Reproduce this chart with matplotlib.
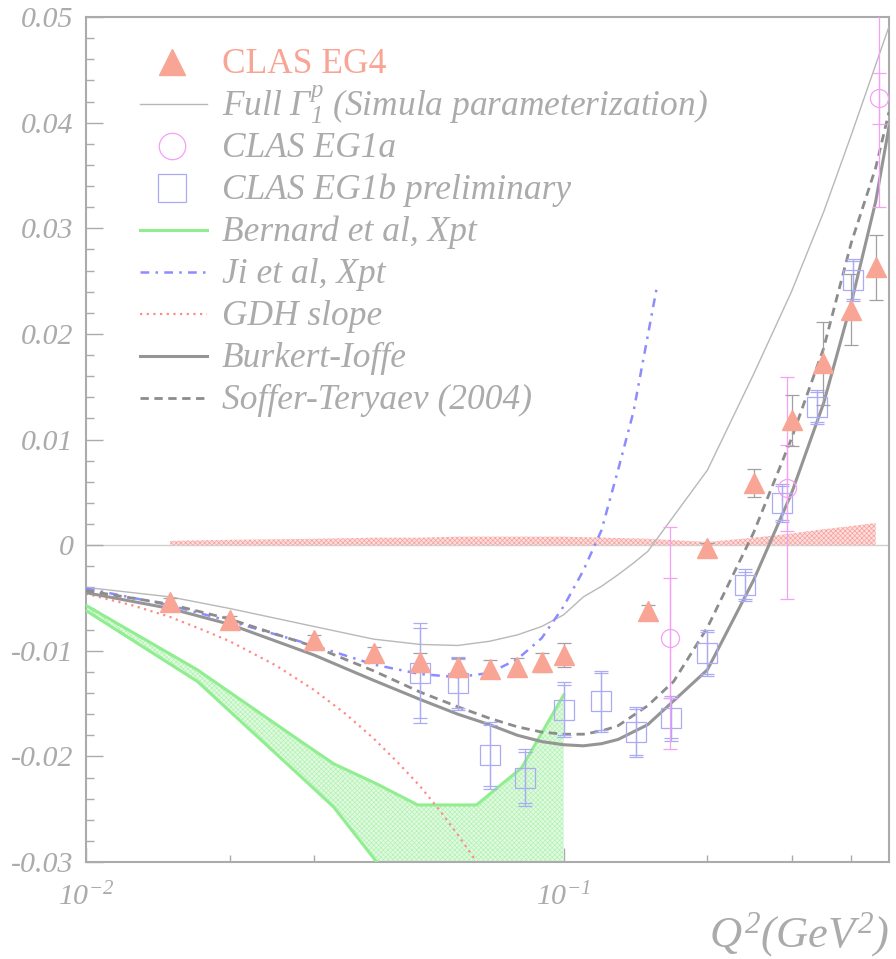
import matplotlib
matplotlib.use('Agg')
import matplotlib.pyplot as plt
from matplotlib.ticker import MultipleLocator, FuncFormatter, NullFormatter, LogLocator

plt.rcParams['font.family'] = ['Liberation Serif', 'DejaVu Serif']
plt.rcParams['font.style'] = 'italic'
plt.rcParams['mathtext.fontset'] = 'custom'
plt.rcParams['mathtext.rm'] = 'Liberation Serif:italic'
plt.rcParams['mathtext.it'] = 'Liberation Serif:italic'
plt.rcParams['mathtext.sf'] = 'Liberation Serif'
plt.rcParams['axes.unicode_minus'] = False
plt.rcParams['hatch.linewidth'] = 0.5

# CLAS EG4 points (triangles), stat errors, systematic band
eg4_q2 = [0.015, 0.02, 0.03, 0.04, 0.05, 0.06, 0.07, 0.08, 0.09, 0.1,
          0.15, 0.2, 0.25, 0.3, 0.35, 0.4, 0.45]
eg4_g1 = [-0.0054, -0.0071, -0.0090, -0.0102, -0.0111, -0.0115, -0.0117, -0.0115, -0.0111, -0.0104,
          -0.0062, -0.0003, 0.0059, 0.0118, 0.0172, 0.0223, 0.0263]
eg4_err = [0.0004, 0.0004, 0.0005, 0.0006, 0.0009, 0.0008, 0.0008, 0.0008, 0.0009, 0.0011,
           0.0005, 0.0005, 0.0013, 0.0024, 0.0039, 0.0034, 0.0031]
eg4_sys = [0.0004, 0.0005, 0.0006, 0.0007, 0.0007, 0.0008, 0.0008, 0.0008, 0.0008, 0.0008,
           0.0006, 0.0003, 0.0007, 0.0011, 0.0015, 0.0018, 0.0021]

# CLAS EG1a (circles)
eg1a_q2 = [0.167, 0.293, 0.458]
eg1a_g1 = [-0.0088, 0.0054, 0.0423]
eg1a_stat = [0.0057, 0.0041, 0.0024]
eg1a_tot = [0.0105, 0.0105, 0.0103]

# CLAS EG1b preliminary (squares)
eg1b_q2 = [0.05, 0.06, 0.07, 0.083, 0.1, 0.12, 0.142, 0.168, 0.2, 0.24, 0.287, 0.34, 0.403]
eg1b_g1 = [-0.0121, -0.0131, -0.0199, -0.0220, -0.0156, -0.0148, -0.0177, -0.0164, -0.0102,
           -0.0038, 0.0040, 0.0131, 0.0251]
eg1b_stat = [0.0043, 0.0023, 0.0029, 0.0024, 0.0024, 0.0027, 0.0022, 0.0019, 0.0020,
             0.0013, 0.0016, 0.0014, 0.0018]
eg1b_tot = [0.0047, 0.0025, 0.0032, 0.0027, 0.0026, 0.0029, 0.0024, 0.0021, 0.0022,
            0.0015, 0.0018, 0.0016, 0.0020]

# Full Gamma_1^p, Simula parameterization
sim_q2 = [0.01, 0.015, 0.02, 0.03, 0.04, 0.05, 0.06, 0.07, 0.08, 0.09, 0.1, 0.11, 0.12, 0.13,
          0.14, 0.15, 0.2, 0.25, 0.3, 0.35, 0.4, 0.48]
sim_g1 = [-0.0040, -0.0049, -0.0060, -0.0077, -0.0089, -0.0094, -0.0095, -0.0091, -0.0085,
          -0.0077, -0.0066, -0.0049, -0.0039, -0.0028, -0.0017, -0.0006, 0.0071, 0.0162,
          0.0240, 0.0315, 0.0388, 0.0491]

# Bernard et al, Xpt band
bern_q2 = [0.01, 0.0171, 0.028, 0.033, 0.0406, 0.0495, 0.0657, 0.0816, 0.1]
bern_hi = [-0.0057, -0.0118, -0.0185, -0.0207, -0.0226, -0.0246, -0.0246, -0.0211, -0.0142]
bern_lo = [-0.0062, -0.0129, -0.0218, -0.0248, -0.0300, -0.0360, -0.0450, -0.0500, -0.0550]

# Ji et al, Xpt
ji_q2 = [0.01, 0.015, 0.02, 0.03, 0.04, 0.05, 0.06, 0.07, 0.08, 0.09, 0.1, 0.11, 0.12, 0.13,
         0.14, 0.15, 0.157]
ji_g1 = [-0.0041, -0.0057, -0.0072, -0.0095, -0.0113, -0.0122, -0.0125, -0.0121, -0.0108,
         -0.0088, -0.0058, -0.0024, 0.0014, 0.0071, 0.0126, 0.0198, 0.0246]

# GDH slope
gdh_q2 = [0.01, 0.0125, 0.015, 0.0175, 0.02, 0.025, 0.03, 0.035, 0.04, 0.045, 0.05, 0.055,
          0.06, 0.066]
gdh_g1 = [-0.0046, -0.0057, -0.0068, -0.0080, -0.0091, -0.0114, -0.0137, -0.0160, -0.0183,
          -0.0206, -0.0228, -0.0251, -0.0274, -0.0301]

# Burkert-Ioffe
bi_q2 = [0.01, 0.015, 0.02, 0.03, 0.04, 0.05, 0.06, 0.07, 0.08, 0.09, 0.1, 0.11, 0.12, 0.13,
         0.15, 0.2, 0.25, 0.3, 0.35, 0.4, 0.45, 0.48]
bi_g1 = [-0.0045, -0.0060, -0.0075, -0.0104, -0.0128, -0.0146, -0.0160, -0.0170, -0.0180,
         -0.0186, -0.0189, -0.0190, -0.0188, -0.0184, -0.0170, -0.0118, -0.0033, 0.0049,
         0.0134, 0.0229, 0.0325, 0.0396]

# Soffer-Teryaev (2004)
st_q2 = [0.01, 0.015, 0.02, 0.03, 0.04, 0.05, 0.06, 0.07, 0.08, 0.09, 0.1, 0.11, 0.12, 0.13,
         0.15, 0.17, 0.2, 0.25, 0.3, 0.35, 0.4, 0.45, 0.48]
st_g1 = [-0.0043, -0.0056, -0.0070, -0.0096, -0.0119, -0.0139, -0.0153, -0.0164, -0.0172,
         -0.0177, -0.0179, -0.0179, -0.0176, -0.0171, -0.0152, -0.0129, -0.0078, 0.0012,
         0.0101, 0.0186, 0.0286, 0.0357, 0.0410]

leg_labels = ['CLAS EG4', r'Full $\mathsf{\Gamma}_{1}^{p}$ (Simula parameterization)',
              'CLAS EG1a', 'CLAS EG1b preliminary', 'Bernard et al, Xpt', 'Ji et al, Xpt',
              'GDH slope', 'Burkert-Ioffe', 'Soffer-Teryaev (2004)']

salmon = '#f9a595'
grey_txt = '#ababab'
magenta = '#f5a0f5'
blue_sq = '#aaaaf5'
green = '#90ee90'
ji_blue = '#8c8cff'
gdh_red = '#ff8a8a'

W, H = 896, 959
fig = plt.figure(figsize=(W / 100, H / 100), dpi=100)
ax = fig.add_axes([86 / W, 1 - 862 / H, 803 / W, 845 / H])
ax.set_xscale('log')
ax.set_xlim(0.01, 0.48)
ax.set_ylim(-0.03, 0.05)

ax.axhline(0, color='#d0d0d0', lw=1, zorder=1)

# Bernard band
ax.fill_between(bern_q2, bern_lo, bern_hi, facecolor='#e2fae2', edgecolor='#b2f2b2',
                hatch='xxxxxxx', lw=0, zorder=2)
ax.plot(bern_q2, bern_hi, color=green, lw=2.2, zorder=3)
ax.plot(bern_q2, bern_lo, color=green, lw=2.2, zorder=3)

# EG4 systematic band
ax.fill_between(eg4_q2, 0, eg4_sys, facecolor='#fde0dc', edgecolor='#f6a0a0',
                hatch='xxxxxxx', lw=0, zorder=2)

ax.plot(sim_q2, sim_g1, color='#b8b8b8', lw=1.0, zorder=3)
ax.plot(gdh_q2, gdh_g1, color=gdh_red, lw=1.6, ls=(0, (1, 2)), zorder=3)
ax.plot(ji_q2, ji_g1, color=ji_blue, lw=1.8, ls=(0, (3.5, 2.5, 1, 2.5)), zorder=3)
ax.plot(bi_q2, bi_g1, color='#959595', lw=2.2, zorder=3)
ax.plot(st_q2, st_g1, color='#8c8c8c', lw=2.0, ls=(0, (3, 2)), zorder=3)

# EG1b
ax.errorbar(eg1b_q2, eg1b_g1, yerr=eg1b_tot, fmt='none', ecolor=blue_sq, elinewidth=0.9,
            capsize=5, capthick=0.9, zorder=4)
ax.errorbar(eg1b_q2, eg1b_g1, yerr=eg1b_stat, fmt='none', ecolor=blue_sq, elinewidth=0.9,
            capsize=5, capthick=0.9, zorder=4)
ax.plot(eg1b_q2, eg1b_g1, 's', ms=15, mfc='none', mec=blue_sq, mew=0.9, zorder=4)

# EG1a
ax.errorbar(eg1a_q2, eg1a_g1, yerr=eg1a_tot, fmt='none', ecolor=magenta, elinewidth=0.9,
            capsize=5, capthick=0.9, zorder=4)
ax.errorbar(eg1a_q2, eg1a_g1, yerr=eg1a_stat, fmt='none', ecolor=magenta, elinewidth=0.9,
            capsize=5, capthick=0.9, zorder=4)
ax.plot(eg1a_q2, eg1a_g1, 'o', ms=13, mfc='none', mec=magenta, mew=0.9, zorder=4)

# EG4
ax.errorbar(eg4_q2, eg4_g1, yerr=eg4_err, fmt='none', ecolor='#a0a0a0', elinewidth=0.9,
            capsize=5, capthick=0.9, zorder=5)
ax.plot(eg4_q2, eg4_g1, '^', ms=14, color=salmon, mec=salmon, zorder=6)

# axes styling
for sp in ax.spines.values():
    sp.set_color('#ababab')
    sp.set_linewidth(1.5)
ax.yaxis.set_major_locator(MultipleLocator(0.01))
ax.yaxis.set_minor_locator(MultipleLocator(0.002))
ax.yaxis.set_major_formatter(FuncFormatter(lambda v, p: '0' if abs(v) < 1e-9 else '%.2f' % v))
ax.set_xticks([0.01, 0.1])
ax.set_xticklabels([r'$10^{-2}$', r'$10^{-1}$'])
ax.xaxis.set_minor_locator(LogLocator(base=10, subs=range(2, 10)))
ax.xaxis.set_minor_formatter(NullFormatter())
ax.tick_params(which='both', direction='in', top=False, right=False, color='#ababab',
               labelcolor=grey_txt, labelsize=21.5, width=1)
ax.tick_params(axis='y', which='major', length=12, pad=9)
ax.tick_params(axis='y', which='minor', length=6)
ax.tick_params(axis='x', which='major', length=10, pad=15)
ax.tick_params(axis='x', which='minor', length=5)
ax.set_xlabel(r'$Q^{2}(GeV^{2})$', loc='right', fontsize=32, color=grey_txt, labelpad=-1)

# legend drawn by hand
def row(i):
    return (862 - (62 + 42.0 * i)) / 845

hx0, hx1, hxm = (140 - 86) / 803, (207 - 86) / 803, (172 - 86) / 803
tx = (222 - 86) / 803
kw = dict(transform=ax.transAxes, clip_on=False)
ax.plot([hxm], [row(0)], '^', ms=19, color=salmon, **kw)
ax.plot([hx0, hx1], [row(1)] * 2, color='#b8b8b8', lw=1.0, **kw)
ax.plot([hxm], [row(2)], 'o', ms=19, mfc='none', mec=magenta, mew=0.9, **kw)
ax.plot([hxm], [row(3)], 's', ms=20, mfc='none', mec=blue_sq, mew=0.9, **kw)
ax.plot([hx0, hx1], [row(4)] * 2, color=green, lw=2.2, **kw)
ax.plot([hx0, hx1], [row(5)] * 2, color=ji_blue, lw=1.8, ls=(0, (3.5, 2.5, 1, 2.5)), **kw)
ax.plot([hx0, hx1], [row(6)] * 2, color=gdh_red, lw=1.6, ls=(0, (1, 2)), **kw)
ax.plot([hx0, hx1], [row(7)] * 2, color='#959595', lw=2.2, **kw)
ax.plot([hx0, hx1], [row(8)] * 2, color='#8c8c8c', lw=2.0, ls=(0, (3, 2)), **kw)
for i, lab in enumerate(leg_labels):
    t = ax.text(tx, row(i) - 11 / 845, lab, transform=ax.transAxes, va='baseline',
                ha='left', fontsize=25.5, color=grey_txt)
    if i == 0:
        t.set_color(salmon)
        t.set_fontstyle('normal')

fig.savefig('out.png', dpi=100)
